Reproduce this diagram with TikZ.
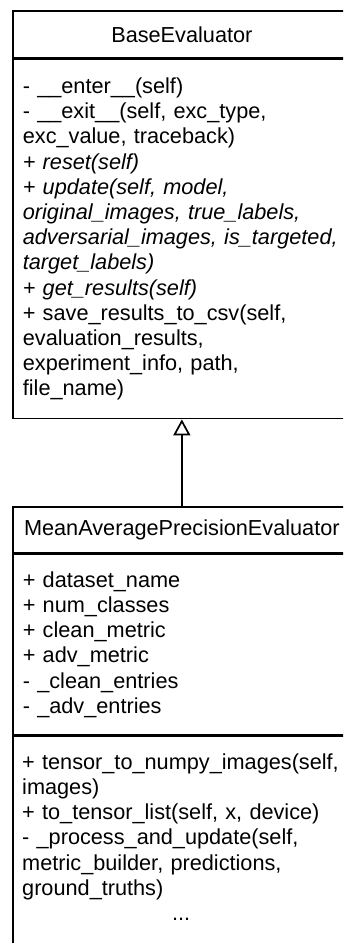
\documentclass[tikz,border=0pt]{standalone}
\usepackage{fontspec}
\setmainfont{Liberation Sans}
\usetikzlibrary{arrows.meta,positioning}
\definecolor{umlink}{HTML}{000000}
\tikzset{
  uml text/.style={font=\fontsize{21.7}{25.2}\selectfont, text=umlink},
  uml head/.style={draw=umlink, line width=1.7pt, minimum width=338pt, inner sep=0pt,
    anchor=north west, align=center},
  uml part/.style={draw=umlink, line width=1.7pt, text width=318pt, inner xsep=10pt,
    inner ysep=0pt, align=left},
  uml arrow/.style={-{Triangle[open, length=16pt, width=17pt]}, line width=1.7pt,
    draw=umlink}
}

\begin{document}
\begin{tikzpicture}[uml text, x=1pt, y=-1pt]
  \useasboundingbox (0,0) rectangle (343,943);
  \clip (0,0) rectangle (343,943);
  \fill[white] (0,0) rectangle (343,943);
  % parent class
  \node[uml head, minimum height=47pt] (base) at (12,10) {BaseEvaluator};
  \node[uml part, minimum height=359pt, below=0pt of base] (basemethods) {%
    - \_\_enter\_\_(self)\\
    - \_\_exit\_\_(self, exc\_type,\\
    exc\_value, traceback)\\
    \textit{+ reset(self)}\\
    \textit{+ update(self, model,}\\
    \textit{original\_images, true\_labels,}\\
    \textit{adversarial\_images, is\_targeted,}\\
    \textit{target\_labels)}\\
    \textit{+ get\_results(self)}\\
    + save\_results\_to\_csv(self,\\
    evaluation\_results,\\
    experiment\_info, path,\\
    file\_name)};
  % child class
  \node[uml head, minimum height=46pt] (map) at (12,506) {MeanAveragePrecisionEvaluator};
  \node[uml part, minimum height=180pt, below=0pt of map] (mapattrs) {%
    + dataset\_name\\
    + num\_classes\\
    + clean\_metric\\
    + adv\_metric\\
    - \_clean\_entries\\
    - \_adv\_entries};
  \node[uml part, minimum height=230pt, below=0pt of mapattrs] (mapmethods) {};
  \node[text width=318pt, align=left, inner sep=0pt,
    below right=18pt and 10pt of mapmethods.north west] (mapmethodstext) {%
    + tensor\_to\_numpy\_images(self,\\
    images)\\
    + to\_tensor\_list(self, x, device)\\
    - \_process\_and\_update(self,\\
    metric\_builder, predictions,\\
    ground\_truths)\\
    \makebox[318pt]{...}};
  % inheritance
  \draw[uml arrow] (map.north) -- (basemethods.south);
\end{tikzpicture}
\end{document}
